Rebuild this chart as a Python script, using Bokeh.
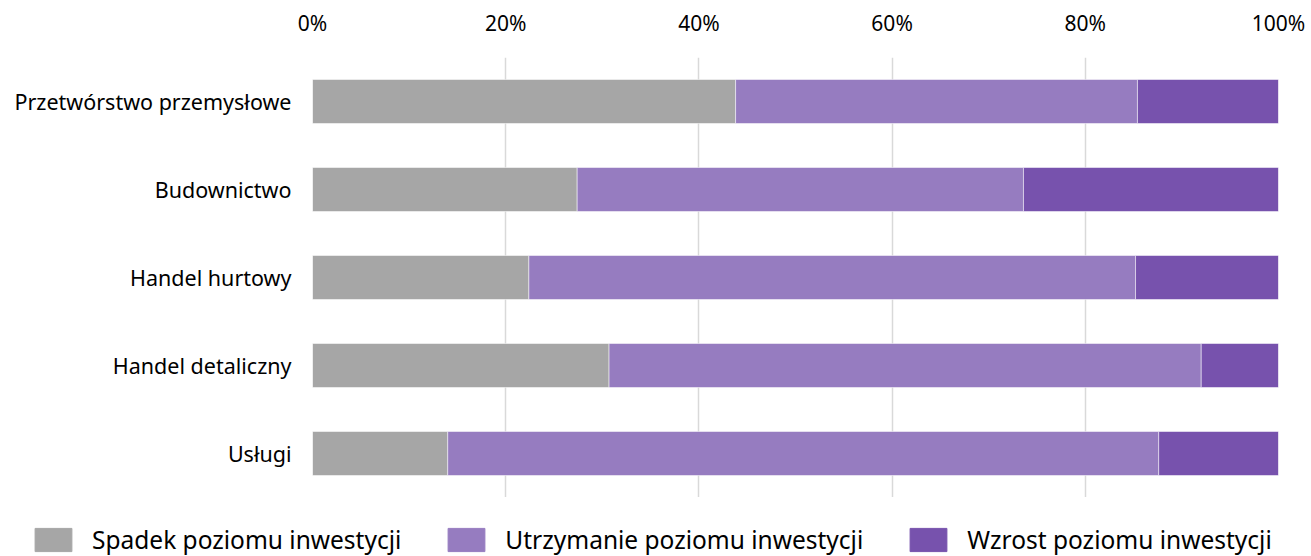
from bokeh.plotting import figure
from bokeh.models import ColumnDataSource, FactorRange, Range1d, Legend, LegendItem, FixedTicker
from bokeh.embed import file_html
from bokeh.resources import INLINE

categories = ["Przetwórstwo przemysłowe", "Budownictwo", "Handel hurtowy", "Handel detaliczny", "Usługi"]
spadek = [43.8, 27.4, 22.4, 30.7, 14.0]
utrzymanie = [41.6, 46.2, 62.8, 61.3, 73.6]
wzrost = [14.6, 26.4, 14.8, 8.0, 12.4]
series_names = ["Spadek poziomu inwestycji", "Utrzymanie poziomu inwestycji", "Wzrost poziomu inwestycji"]
series_colors = ["#A6A6A6", "#967CC0", "#7752AD"]
tick_values = [0, 20, 40, 60, 80, 100]
tick_labels = ["0%", "20%", "40%", "60%", "80%", "100%"]

FONT = "Noto Sans"

source = ColumnDataSource(dict(cat=categories, spadek=spadek, utrzymanie=utrzymanie, wzrost=wzrost))

p = figure(
    y_range=FactorRange(*reversed(categories)),
    x_range=Range1d(0, 100),
    frame_width=966, frame_height=440,
    min_border_left=312, min_border_top=57, min_border_right=33, min_border_bottom=0,
    x_axis_location="above",
    output_backend="svg", toolbar_location=None,
)

renderers = p.hbar_stack(["spadek", "utrzymanie", "wzrost"], y="cat", height=0.5,
                         color=series_colors, line_color="white", line_alpha=0.5, line_width=1,
                         source=source)

p.outline_line_color = None
p.ygrid.grid_line_color = None
p.xgrid.ticker = FixedTicker(ticks=tick_values)
p.xgrid.grid_line_color = "#D9D9D9"
p.xgrid.grid_line_width = 1.5

xa = p.xaxis[0]
xa.ticker = FixedTicker(ticks=tick_values)
xa.major_label_overrides = {v: l for v, l in zip(tick_values, tick_labels)}
xa.axis_line_color = None
xa.major_tick_line_color = None
xa.minor_tick_line_color = None
xa.major_tick_out = 0
xa.major_label_standoff = 21
xa.major_label_text_font = FONT
xa.major_label_text_font_size = "21px"
xa.major_label_text_color = "#000000"

ya = p.yaxis[0]
ya.axis_line_color = None
ya.major_tick_line_color = None
ya.major_tick_out = 0
ya.major_label_standoff = 21
ya.major_label_text_font = FONT
ya.major_label_text_font_size = "21.5px"
ya.major_label_text_color = "#000000"

# Legend strip below the chart (separate root so its frame spans the full width)
p2 = figure(width=1311, height=59, x_range=Range1d(0, 1), y_range=Range1d(0, 1),
            min_border_left=0, min_border_right=0, min_border_top=0, min_border_bottom=0,
            output_backend="svg", toolbar_location=None)
p2.axis.visible = False
p2.grid.visible = False
p2.outline_line_color = None
dummy = [p2.hbar(y=[0], left=[0], right=[0], height=0, color=c) for c in series_colors]

legend = Legend(
    items=[LegendItem(label=n, renderers=[r]) for n, r in zip(series_names, dummy)],
    location=(30, 0), orientation="horizontal",
    padding=0, margin=0, spacing=42, label_standoff=16,
    glyph_width=46, glyph_height=29,
    label_text_font=FONT, label_text_font_size="24.5px", label_text_color="#000000",
    background_fill_alpha=0, border_line_color=None,
)
p2.add_layout(legend)

open("out.html", "w").write(file_html([p, p2], INLINE))
